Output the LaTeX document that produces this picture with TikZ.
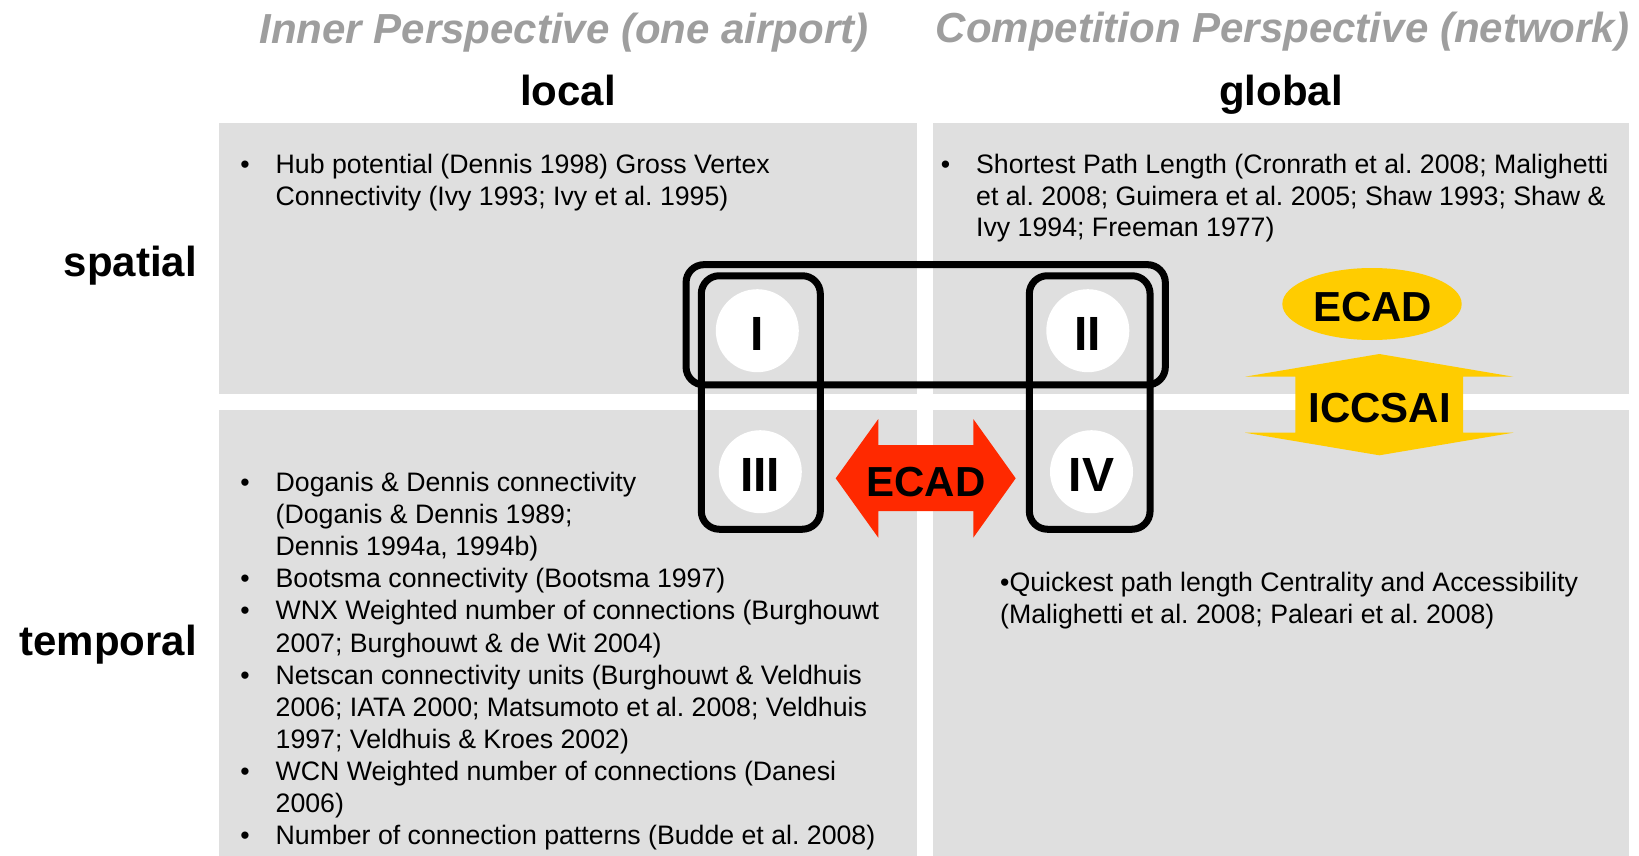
\documentclass[tikz,border=0pt]{standalone}
\usepackage{fontspec}
\setmainfont{Liberation Sans}
\usetikzlibrary{shapes.geometric}
\definecolor{panelgray}{RGB}{223,223,223}
\definecolor{headgray}{RGB}{158,158,158}
\definecolor{ecadred}{RGB}{255,41,0}
\definecolor{ecadyellow}{RGB}{255,204,0}
\newcommand{\bodyfont}{\fontsize{26.7}{31.8}\selectfont}
\newcommand{\bodyfontwide}{\fontsize{26.7}{32.1}\selectfont}
\newcommand{\bigfont}{\fontsize{42}{50}\selectfont\bfseries}
\newcommand{\romfont}{\fontsize{48}{56}\selectfont\bfseries}
\newcommand{\bul}{\leavevmode\llap{•\hspace{26pt}}}
\frenchspacing
\begin{document}
\frenchspacing
\begin{tikzpicture}[x=1pt,y=-1pt,
  panel/.style={fill=panelgray},
  txt/.style={anchor=base west,inner sep=0pt,font=\bodyfont},
  biglabel/.style={inner sep=0pt,font=\bigfont},
  header/.style={anchor=base,inner sep=0pt,font=\bigfont\itshape,text=headgray},
  frame/.style={draw=black,line width=7pt,rounded corners=18pt,rectangle,inner sep=0pt},
  roman/.style={circle,fill=white,minimum size=83pt,inner sep=0pt,font=\romfont,text height=38.6pt,text depth=0pt},
  arrowtext/.style={anchor=base,inner sep=0pt,font=\bigfont}]
\useasboundingbox (0,0) rectangle (1639,856);
\fill[white] (0,0) rectangle (1639,856);

% quadrants
\path[panel] (219,123) rectangle (917,394);
\path[panel] (933,123) rectangle (1629,394);
\path[panel] (219,410) rectangle (917,856);
\path[panel] (933,410) rectangle (1629,856);

% headers
\node[header] (hin) at (564,43.3) {Inner Perspective (one airport)};
\node[header] (hcomp) at (1282.5,42.7) {Competition Perspective (network)};
\node[biglabel,anchor=base] (local) at (568,105.5) {local};
\node[biglabel,anchor=base] (global) at (1281,105.5) {global};
\node[biglabel,anchor=base east] (spatial) at (197,276.7) {spatial};
\node[biglabel,anchor=base east] (temporal) at (197,655) {temporal};

% texts
\node[txt] (tl) at (275.5,173.3) {\begin{minipage}[t]{700pt}\frenchspacing\bul Hub potential (Dennis 1998) Gross Vertex\\
Connectivity (Ivy 1993; Ivy et al. 1995)\end{minipage}};
\node[txt] (tr) at (976,173.3) {\begin{minipage}[t]{700pt}\frenchspacing\bul Shortest Path Length (Cronrath et al. 2008; Malighetti\\
et al. 2008; Guimera et al. 2005; Shaw 1993; Shaw \&\\
Ivy 1994; Freeman 1977)\end{minipage}};
\node[txt,font=\bodyfontwide] (bl) at (275.5,491.5) {\begin{minipage}[t]{700pt}\frenchspacing\bul Doganis \& Dennis connectivity\\
(Doganis \& Dennis 1989;\\
Dennis 1994a, 1994b)\\
\bul Bootsma connectivity (Bootsma 1997)\\
\bul WNX Weighted number of connections (Burghouwt\\
2007; Burghouwt \& de Wit 2004)\\
\bul Netscan connectivity units (Burghouwt \& Veldhuis\\
2006; IATA 2000; Matsumoto et al. 2008; Veldhuis\\
1997; Veldhuis \& Kroes 2002)\\
\bul WCN Weighted number of connections (Danesi\\
2006)\\
\bul Number of connection patterns (Budde et al. 2008)\end{minipage}};
\node[txt] (br) at (1000,591.7) {\begin{minipage}[t]{700pt}\frenchspacing •Quickest path length Centrality and Accessibility\\
(Malighetti et al. 2008; Paleari et al. 2008)\end{minipage}};

% white circles with roman numerals
\node[roman] (c1) at (757.3,330.7) {I};
\node[roman] (c2) at (1087.8,330.7) {II};
\node[roman] (c3) at (760.3,471.7) {III};
\node[roman] (c4) at (1091.5,471.7) {IV};

% frames
\node[frame,minimum width=479.3pt,minimum height=120.3pt] (fspatial) at (925.7,324.8) {};
\node[frame,minimum width=119pt,minimum height=253.5pt] (flocal) at (760.8,402.5) {};
\node[frame,minimum width=120.7pt,minimum height=253.5pt] (fglobal) at (1089.7,402.5) {};

% red double arrow
\fill[ecadred] (835.7,478.3) -- (878.3,419) -- (878.3,445) -- (973.3,445) -- (973.3,419)
  -- (1015.7,478.3) -- (973.3,537.7) -- (973.3,511) -- (878.3,511) -- (878.3,537.7) -- cycle;
\node[arrowtext] (ecadred) at (926,496.7) {ECAD};

% yellow ellipse
\node[ellipse,fill=ecadyellow,minimum width=179.4pt,minimum height=72pt,inner sep=0pt] (ecadell) at (1372,304) {};
\node[arrowtext] (ecadyel) at (1372.7,321.7) {ECAD};

% yellow up-down arrow
\fill[ecadyellow] (1379.3,354) -- (1513.3,376.7) -- (1463,376.7) -- (1463,432.7) -- (1513.3,432.7)
  -- (1379.3,455.3) -- (1245,432.7) -- (1295.3,432.7) -- (1295.3,376.7) -- (1245,376.7) -- cycle;
\node[arrowtext] (iccsai) at (1379.7,422.3) {ICCSAI};
\end{tikzpicture}
\end{document}
